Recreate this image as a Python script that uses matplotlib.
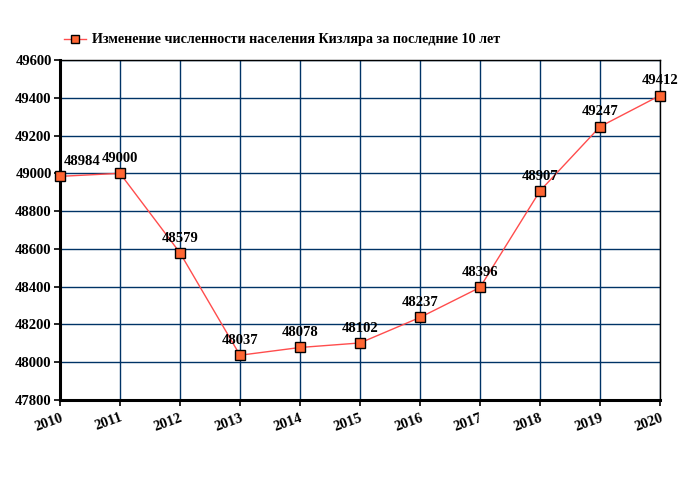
import matplotlib
matplotlib.use("Agg")
import matplotlib.pyplot as plt

years = [2010, 2011, 2012, 2013, 2014, 2015, 2016, 2017, 2018, 2019, 2020]
population = [48984, 49000, 48579, 48037, 48078, 48102, 48237, 48396, 48907, 49247, 49412]
yticks = [47800, 48000, 48200, 48400, 48600, 48800, 49000, 49200, 49400, 49600]
title = "Изменение численности населения Кизляра за последние 10 лет"

plt.rcParams['font.family'] = ['Liberation Serif', 'DejaVu Serif']
plt.rcParams['font.weight'] = 'bold'

fig = plt.figure(figsize=(6.8, 5.0), dpi=100)
ax = fig.add_axes([60/680, 100/500, 600/680, 340/500])

ax.plot(years, population, color='#ff4d4d', lw=1.0, marker='s', markersize=7.5,
        markerfacecolor='#ff6633', markeredgecolor='black', markeredgewidth=1.0,
        label=title, zorder=3, clip_on=False)

for i, (x, y) in enumerate(zip(years, population)):
    dx = 16 if i == 0 else 0
    ax.annotate(str(y), (x, y), xytext=(dx, 6), textcoords='offset points',
                ha='center', va='bottom', fontsize=10.5, fontweight='bold', color='black', zorder=4)

ax.set_xlim(2010, 2020)
ax.set_ylim(47800, 49600)
ax.set_xticks(years)
ax.set_xticklabels([str(y) for y in years], rotation=20, ha='right', rotation_mode='anchor',
                   fontsize=10.5, fontweight='bold')
ax.set_yticks(yticks)
ax.set_yticklabels([str(v) for v in yticks], fontsize=10.5, fontweight='bold')
ax.tick_params(axis='both', direction='out', length=4, width=1.2, color='black', pad=2)
ax.tick_params(axis='x', pad=4)

ax.grid(True, color='#003366', lw=1.0, zorder=0)
ax.set_axisbelow(True)
for s in ['left', 'bottom']:
    ax.spines[s].set_linewidth(2.2)
    ax.spines[s].set_color('black')
for s in ['top', 'right']:
    ax.spines[s].set_linewidth(1.0)
    ax.spines[s].set_color('black')

leg = fig.legend(loc='center', bbox_to_anchor=(282/680, 1 - 40/500), frameon=False,
                 prop={'family': 'Liberation Serif', 'weight': 'bold', 'size': 10.2},
                 handlelength=1.6, handletextpad=0.4, markerscale=0.85)

fig.savefig("out.png", dpi=100)
